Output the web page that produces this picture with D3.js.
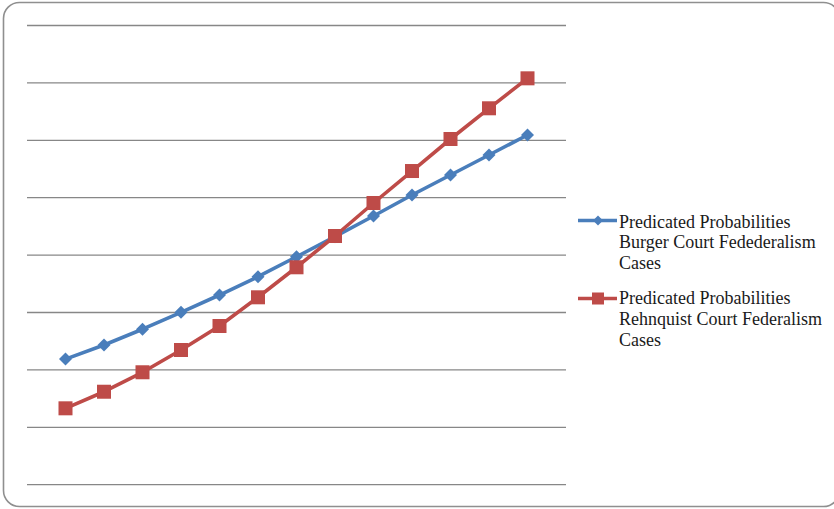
<!DOCTYPE html>
<html><head><meta charset="utf-8">
<script src="https://cdn.jsdelivr.net/npm/d3@7"></script>
<style>body{margin:0;background:#fff}svg{display:block}</style>
</head><body>
<svg id="c" width="834" height="509"></svg>
<script>
const xValues = [1,2,3,4,5,6,7,8,9,10,11,12,13];
const burger = [0.218,0.2425,0.270,0.2995,0.3296,0.3615,0.3963,0.4312,0.4672,0.5038,0.5387,0.5735,0.6084];
const rehnquist = [0.1322,0.1611,0.195,0.2338,0.2756,0.3256,0.3779,0.4324,0.4899,0.5456,0.6014,0.6549,0.7071];
const yTicks = [0,0.1,0.2,0.3,0.4,0.5,0.6,0.7,0.8];
const seriesNames = [
  ["Predicated Probabilities","Burger Court Fedederalism","Cases"],
  ["Predicated Probabilities","Rehnquist Court Federalism","Cases"]
];

const svg = d3.select("#c");
svg.append("rect").attr("x",3.5).attr("y",2.5).attr("width",836).attr("height",504)
  .attr("rx",16).attr("fill","#fff").attr("stroke","#8f8f8f").attr("stroke-width",1.6);

const x = d3.scaleLinear().domain([0,14]).range([27,566]);
const y = d3.scaleLinear().domain([0,0.8]).range([484.2,25]);

const grid = svg.append("g").attr("transform","translate(27,0)")
  .call(d3.axisLeft(y).tickValues(yTicks).tickSize(-539).tickFormat(""));
grid.select(".domain").remove();
grid.selectAll(".tick line").attr("stroke","#878787").attr("stroke-width",1.3);

const series = [
  {vals: burger, color:"#4A7EBB", shape:"diamond"},
  {vals: rehnquist, color:"#BE4B48", shape:"square"}
];
const line = d3.line().x((d,i)=>x(xValues[i])).y(d=>y(d));
function marker(g, shape, color, s){
  if(shape==="diamond"){
    g.append("path").attr("d",`M0,${-s}L${s},0L0,${s}L${-s},0Z`).attr("fill",color);
  } else {
    g.append("rect").attr("x",-s).attr("y",-s).attr("width",2*s).attr("height",2*s).attr("fill",color);
  }
}
series.forEach(s=>{
  svg.append("path").datum(s.vals).attr("d",line).attr("fill","none")
    .attr("stroke",s.color).attr("stroke-width",3.6).attr("stroke-linejoin","round");
  s.vals.forEach((v,i)=>{
    const g = svg.append("g").attr("transform",`translate(${x(xValues[i])},${y(v)})`);
    marker(g, s.shape, s.color, s.shape==="diamond"?6.5:7);
  });
});

// legend
const legY = [220.5, 298.5];
const legText = [227.5, 304];
series.forEach((s,k)=>{
  const g = svg.append("g");
  g.append("line").attr("x1",578).attr("x2",617).attr("y1",legY[k]).attr("y2",legY[k])
    .attr("stroke",s.color).attr("stroke-width",3.6);
  const m = g.append("g").attr("transform",`translate(598,${legY[k]})`);
  marker(m, s.shape, s.color, s.shape==="diamond"?5:6);
  const t = g.append("text").attr("x",619).attr("y",legText[k])
    .attr("font-family","'Liberation Serif','Times New Roman',serif").attr("font-size",18).attr("fill","#1a1a1a");
  seriesNames[k].forEach((ln,j)=>{
    t.append("tspan").attr("x",619).attr("dy", j===0?0:20.8).text(ln);
  });
});
</script>
</body></html>
